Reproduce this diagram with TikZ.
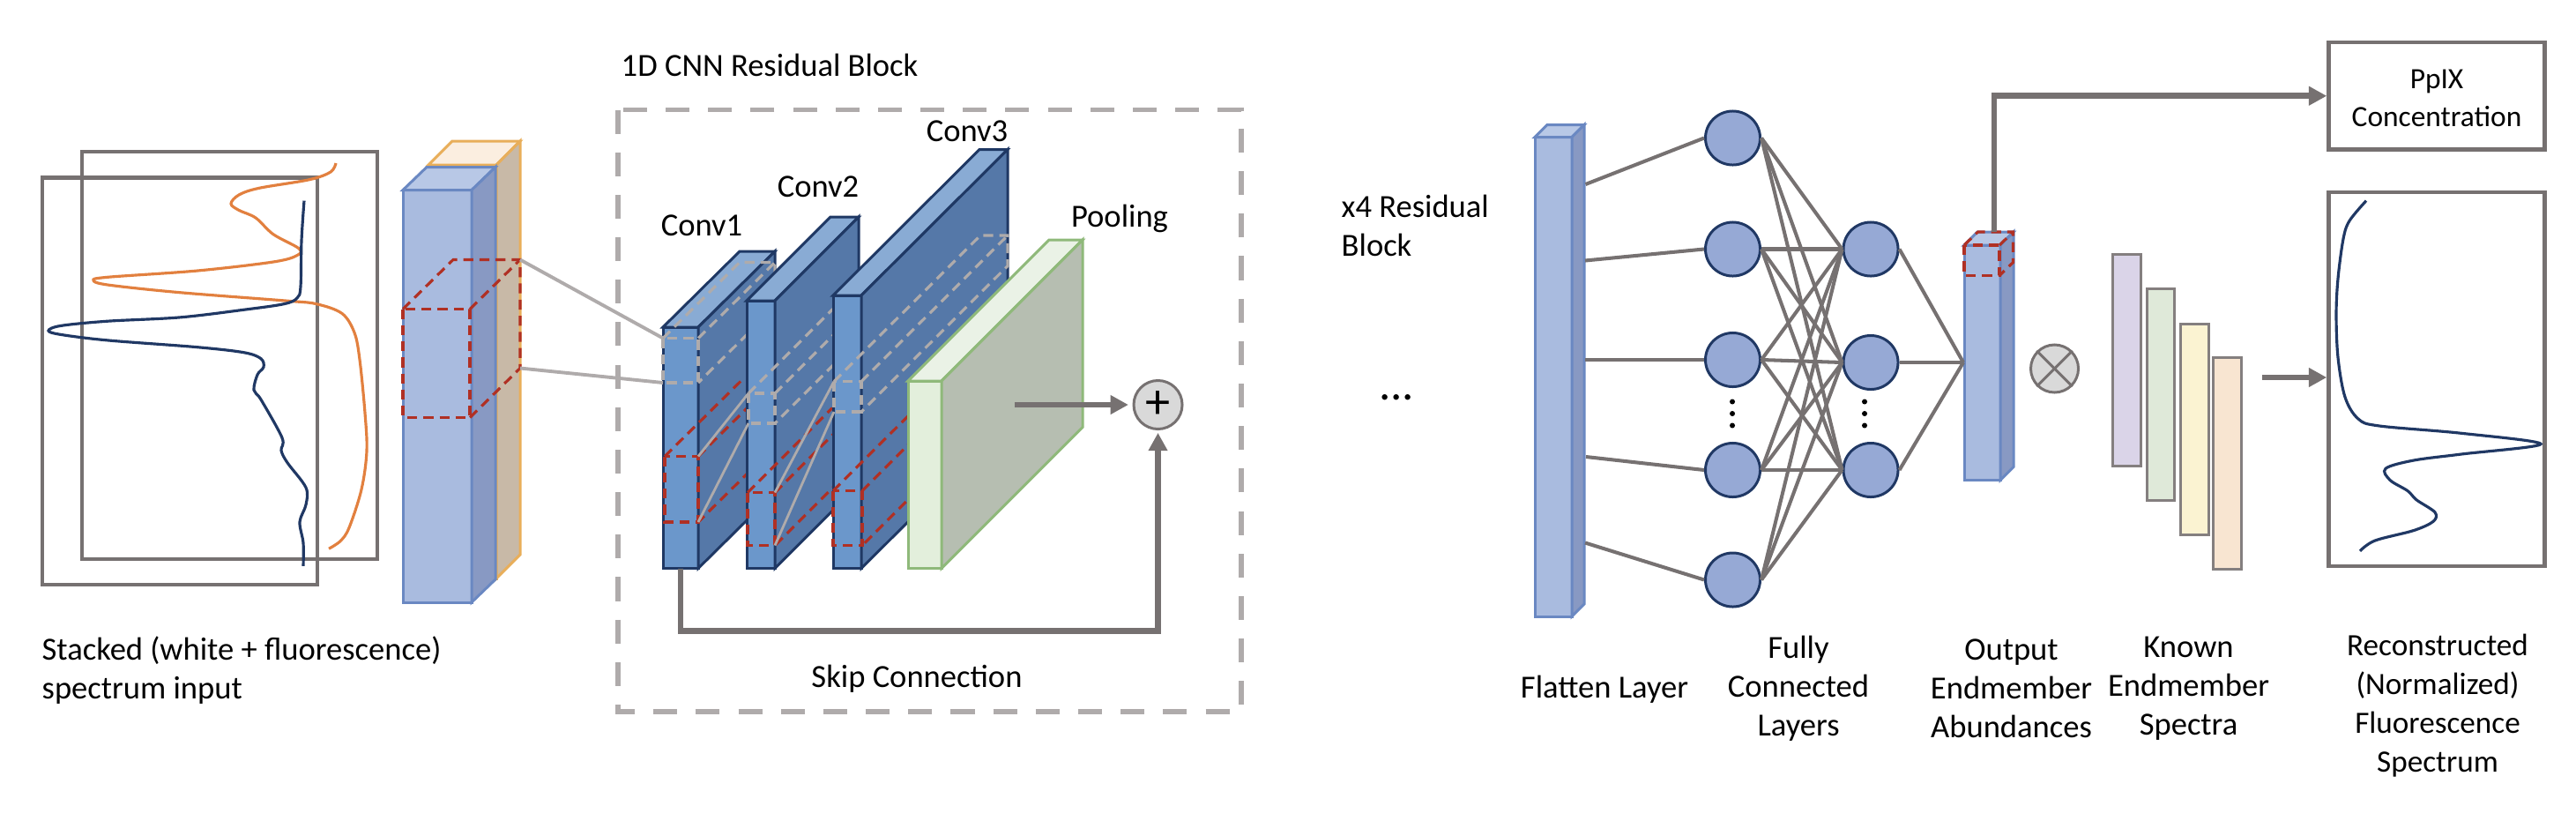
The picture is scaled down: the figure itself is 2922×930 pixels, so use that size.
\documentclass[tikz,border=0pt]{standalone}
\usepackage{fontspec}
\setmainfont{Carlito}
\usetikzlibrary{arrows.meta,shapes.geometric,positioning}

\definecolor{gframe}{HTML}{AFABAB}
\definecolor{gline}{HTML}{767171}
\definecolor{redcut}{HTML}{B03024}
\definecolor{navy}{HTML}{203864}
\definecolor{orangeline}{HTML}{E2803F}
\definecolor{neuron}{HTML}{96A9D5}
\definecolor{flatline}{HTML}{6A88C2}
\definecolor{flatfront}{HTML}{A9BBDF}
\definecolor{flatside}{HTML}{8899C3}
\definecolor{flattop}{HTML}{B8C8E6}
\definecolor{warmline}{HTML}{E8AE5A}
\definecolor{warmfront}{HTML}{C8B9A7}
\definecolor{warmside}{HTML}{C8B9A7}
\definecolor{warmtop}{HTML}{FBEEE0}
\definecolor{convline}{HTML}{1F3864}
\definecolor{convfront}{HTML}{6B97CB}
\definecolor{convside}{HTML}{5578A8}
\definecolor{convtop}{HTML}{89ABD4}
\definecolor{poolline}{HTML}{8FB97A}
\definecolor{poolfront}{HTML}{E3EFDC}
\definecolor{poolside}{HTML}{B6BEB1}
\definecolor{pooltop}{HTML}{EAF2E6}
\definecolor{kbarone}{HTML}{DAD4E8}
\definecolor{kbartwo}{HTML}{DFE9D9}
\definecolor{kbarthree}{HTML}{FBF3D2}
\definecolor{kbarfour}{HTML}{F8E5D1}

\tikzset{
	txt/.style={font=\fontsize{10.4}{12.5}\selectfont,inner sep=0pt,align=center},
	txtl/.style={txt,align=left,anchor=west},
	specbox/.style={draw=gline,line width=1.25pt},
	netline/.style={draw=gline,line width=1.15pt},
	bigarrow/.style={draw=gline,line width=1.9pt,-{Triangle[length=5.8pt,width=5.9pt]}},
	cut/.style={draw=redcut,line width=.9pt,dash pattern=on 3.2pt off 2pt},
	cutgray/.style={draw=gframe,line width=.9pt,dash pattern=on 3.2pt off 2pt},
	feed/.style={draw=gframe,line width=.8pt},
	specline/.style={line width=.9pt},
	neuronnode/.style={ellipse,draw=navy,fill=neuron,line width=.85pt,minimum width=.62cm,minimum height=.61cm,inner sep=0pt},
	dot/.style={circle,fill=black,inner sep=0pt,minimum size=.06cm},
	kbar/.style={draw=gline!90!white,line width=.85pt}
}

\newcommand{\slab}[8][.85pt]{
	\draw[#8line,fill=#8front,line width=#1] (#2,#3) rectangle (#2+#4,#3+#5);
	\draw[#8line,fill=#8top,line width=#1] (#2,#3) -- (#2+#6,#3-#7) -- (#2+#4+#6,#3-#7) -- (#2+#4,#3) -- cycle;
	\draw[#8line,fill=#8side,line width=#1] (#2+#4,#3) -- (#2+#4+#6,#3-#7) -- (#2+#4+#6,#3+#5-#7) -- (#2+#4,#3+#5) -- cycle;
}
\newcommand{\dashcube}[8]{
	\coordinate (#8tl) at (#1,#2); \coordinate (#8tr) at (#1+#3,#2);
	\coordinate (#8bl) at (#1,#2+#4); \coordinate (#8br) at (#1+#3,#2+#4);
	\coordinate (#8rt) at (#1+#3+#5,#2-#6); \coordinate (#8rb) at (#1+#3+#5,#2+#4-#6);
	\coordinate (#8lt) at (#1+#5,#2-#6);
	\draw[#7] (#8tl) rectangle (#8br);
	\draw[#7] (#8tl) -- (#8lt) -- (#8rt) -- (#8rb) -- (#8br);
	\draw[#7] (#8tr) -- (#8rt);
}

\begin{document}
\begin{tikzpicture}[x=.01cm,y=-.01cm]
	\useasboundingbox (0,0) rectangle (2922,930);

	\draw[specbox] (93,172) rectangle (428,634);
	\draw[specbox] (48,201.5) rectangle (360,663);
	\draw[specline,orangeline] plot[smooth,tension=.55] coordinates {(381,185) (375,195) (351,203.7) (294,213.3) (271,221) (262,231) (271,238.4) (290,247) (310,265.7) (339,281.8) (337,289.6) (310,297) (224,307) (122,314.3) (106,317.8) (122,323) (204,331.7) (326,341.2) (359,344.7) (388,355.5) (402,377.2) (408,407.6) (414,468.3) (416,511.7) (410,555) (396,598.4) (386,613.6) (373,622.2)};
	\draw[specline,navy] plot[smooth,tension=.55] coordinates {(345,227.6) (342,273) (341,325) (337,338) (322,344.7) (277,351.2) (204,359.9) (122,364.2) (69,369.4) (55,375) (69,379.4) (122,385.9) (224,393.7) (277,399.8) (296,406.7) (299,416.2) (292,424.9) (288,442.3) (296,453.1) (320,496.5) (319,510.8) (326,524.7) (347,552.9) (347,572.4) (340,591.9) (344,615.7) (344,641.8)};
	\node[txtl] (stacked) at (47,760) {Stacked (white + fluorescence)\\spectrum input};

	\slab{486}{187}{77}{469}{27}{27}{warm}
	\slab{457}{215.5}{78}{467.5}{27}{26}{flat}
	\dashcube{457}{350.5}{76}{123}{57}{56}{cut}{big}

	\draw[gframe,line width=1.7pt,dash pattern=on 7.7pt off 6pt] (701,124.5) rectangle (1408,807);
	\node[txtl] (blocktitle) at (704,73.5) {1D CNN Residual Block};

	\slab{752}{371}{40}{273.5}{87}{86}{conv}
	\dashcube{754}{517.5}{38}{74.5}{87}{86}{cut}{ra}
	\dashcube{752}{383.5}{40}{50.5}{87}{86}{cutgray}{ga}
	\slab{847}{341}{32}{303.5}{95}{95}{conv}
	\dashcube{848}{558.5}{31}{60}{95}{95}{cut}{rb}
	\dashcube{849}{446}{30}{34}{95}{95}{cutgray}{gb}
	\slab{945}{335}{32}{309.5}{166}{165.5}{conv}
	\dashcube{945}{556.5}{33}{62}{166}{165.5}{cut}{rc}
	\dashcube{946}{432.5}{31}{34.5}{166}{165.5}{cutgray}{gc}

	\draw[feed] (ratr) -- (gbtl); \draw[feed] (rabr) -- (gbbl);
	\draw[feed] (rbtr) -- (gctl); \draw[feed] (rbbr) -- (gcbl);
	\draw[gframe,line width=1.1pt] (bigrt) -- (gatl); \draw[gframe,line width=1.1pt] (bigrb) -- (gabl);

	\slab{1030}{432}{38}{212.5}{160}{160}{pool}

	\node[txt] (conva) at (796,255.5) {Conv1};
	\node[txt] (convb) at (928,211.5) {Conv2};
	\node[txt] (convc) at (1097,148.5) {Conv3};
	\node[txt] (pooling) at (1270,247.5) {Pooling};
	\node[txt] (skiplabel) at (1040,770) {Skip Connection};

	\node[ellipse,draw=gline,fill=black!15,line width=.85pt,minimum width=.55cm,minimum height=.55cm,inner sep=0pt,font=\fontsize{16}{16}\selectfont] (plus) at (1313.5,459) {\raisebox{-1pt}{+}};
	\coordinate (poolout) at (1151,459);
	\coordinate (skipstart) at (772,644.5);
	\coordinate (skipturn) at (1313.5,715.5);
	\draw[bigarrow,shorten >=1.3pt] (poolout) -- (plus.west);
	\draw[bigarrow,shorten >=.8pt] (skipstart) |- (skipturn) -- (plus.south);

	\node[txtl] (repeatlabel) at (1521,256) {x4 Residual\\Block};
	\node[txt,font=\fontsize{15}{15}\selectfont] (moredots) at (1584,451) {...};

	\slab{1741}{155.5}{42}{543.5}{14}{14}{flat}
	\node[txt] (flattenlabel) at (1820,782) {Flatten Layer};

	\foreach \i/\y in {1/156.5,2/282.5,3/408,4/533,5/657.5}
		\node[neuronnode] (l\i) at (1965.5,\y) {};
	\foreach \i/\y in {1/282.5,2/411,3/533}
		\node[neuronnode] (r\i) at (2122,\y) {};
	\foreach \i/\x/\y in {1/1798.5/209,2/1798/295.5,3/1798/408,4/1799/518,5/1798/615.5} {
		\coordinate (f\i) at (\x,\y);
		\draw[netline] (f\i) -- (l\i.west);
	}
	\foreach \i in {1,...,5}
		\foreach \j in {1,2,3}
			\draw[netline] (l\i.east) -- (r\j.west);
	\foreach \y in {455.5,469,482.5} {
		\node[dot] (da\y) at (1965,\y) {};
		\node[dot] (db\y) at (2115,\y) {};
	}

	\slab{2228}{278}{41}{266.5}{15}{15}{flat}
	\dashcube{2228}{278}{40}{34.5}{15.5}{15}{cut}{out}
	\coordinate (outin) at (2227,411);
	\foreach \j in {1,2,3}
		\draw[netline] (r\j.east) -- (outin);
	\node[txt] (fclabel) at (2040,781) {Fully\\Connected\\Layers};
	\node[txt] (outlabel) at (2281.5,781) {Output\\Endmember\\Abundances};

	\node[ellipse,draw=gline,fill=black!15,line width=.85pt,minimum width=.54cm,minimum height=.54cm,inner sep=0pt] (otimes) at (2330.5,418) {};
	\draw[gline,line width=.85pt] (otimes.north west) -- (otimes.south east);
	\draw[gline,line width=.85pt] (otimes.north east) -- (otimes.south west);

	\draw[kbar,fill=kbarone] (2396,288.5) rectangle (2428,528.5);
	\draw[kbar,fill=kbartwo] (2435,327) rectangle (2466.5,567);
	\draw[kbar,fill=kbarthree] (2473,367) rectangle (2505,606.5);
	\draw[kbar,fill=kbarfour] (2510,405) rectangle (2542,645);
	\node[txt] (knownlabel) at (2482.5,781) {Known\\Endmember\\Spectra};

	\node[rectangle,specbox,minimum width=2.45cm,minimum height=1.215cm,inner sep=0pt] (ppix) at (2764,108.75) {};
	\node[txt,font=\fontsize{9.5}{12.2}\selectfont] (ppixlabel) at (2764,111) {PpIX\\Concentration};
	\node[rectangle,specbox,minimum width=2.45cm,minimum height=4.24cm,inner sep=0pt] (recon) at (2764,430) {};
	\draw[specline,navy] plot[smooth,tension=.55] coordinates {(2684,227.6) (2665,250.4) (2658,270.8) (2652,315.7) (2650,356.6) (2652,405.5) (2660,450.4) (2675,475) (2699,483) (2792,491.3) (2882,503.5) (2792,515) (2738,522) (2706,531.3) (2711,544.4) (2731,556.6) (2741,566.8) (2762,581) (2760,591.3) (2738,601.5) (2694,613) (2677,624.8)};
	\node[txt,font=\fontsize{10}{12.5}\selectfont] (reconlabel) at (2765,800) {Reconstructed\\(Normalized)\\Fluorescence\\Spectrum};

	\coordinate (outup) at (2262,263);
	\coordinate (kout) at (2566,428);
	\draw[bigarrow] (outup) |- (ppix.west);
	\draw[bigarrow] (kout) -- (kout -| recon.west);
\end{tikzpicture}
\end{document}
